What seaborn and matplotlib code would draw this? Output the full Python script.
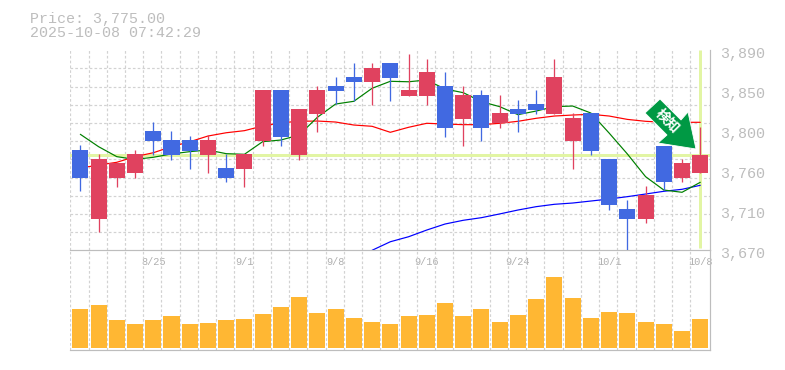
import numpy as np
import seaborn as sns
import matplotlib
matplotlib.use("Agg")
import matplotlib.pyplot as plt
from matplotlib.patches import Polygon
from matplotlib.transforms import ScaledTranslation

opens = [3780,3704,3750,3755,3801,3791,3791,3775,3760,3759,3790,3846,3775,3820,3851,3861,3855,3876,3840,3840,3851,3814,3841,3810,3825,3831,3820,3790,3821,3770,3715,3704,3785,3750,3755]
closes = [3750,3770,3766,3776,3790,3775,3779,3791,3750,3776,3846,3795,3825,3846,3845,3855,3871,3860,3846,3866,3805,3841,3805,3821,3820,3824,3861,3815,3779,3720,3704,3731,3745,3766,3775]
highs = [3786,3776,3766,3780,3811,3801,3796,3797,3776,3776,3846,3846,3825,3851,3861,3876,3876,3876,3886,3880,3866,3851,3846,3841,3835,3846,3880,3821,3821,3770,3725,3741,3785,3770,3806]
lows = [3735,3690,3740,3750,3775,3769,3759,3755,3745,3740,3785,3785,3769,3800,3831,3834,3830,3834,3840,3830,3795,3785,3790,3805,3800,3820,3820,3759,3775,3714,3670,3700,3736,3745,3755]
ma_short = [3797.6,3784,3773,3770,3772.3,3776,3778.5,3780.3,3776.3,3775.6,3789.5,3791.3,3796.8,3816.3,3830.9,3833.9,3848.2,3855.9,3855.4,3857.3,3847.4,3843.4,3833.5,3828,3819.2,3823.2,3828,3828.7,3821,3799,3776,3751,3736.3,3733.8,3744.8]
ma_mid = [3760.5,3763.8,3766.8,3773,3777.3,3784,3789.4,3795.7,3799.3,3801.6,3806.7,3810.3,3811.9,3812.2,3811.1,3807.8,3806.4,3799.8,3805.3,3809.7,3808.9,3808.2,3808.2,3809.7,3811.9,3815.2,3817.7,3818.8,3819.6,3817.7,3814,3811.9,3810.8,3810.8,3810.8]
ma_long = [np.nan]*16 + [3670,3679.4,3684.9,3692.3,3698.9,3703,3705.9,3710,3714.3,3718,3720.6,3722,3724.2,3726.4,3729,3731.9,3734.9,3737.1,3741.5]
volume = [116,128,83,71,83,95,71,74,83,86,101,122,152,104,116,89,77,71,96,99,135,96,117,78,99,147,213,150,90,108,105,78,72,51,87]
date_pos = [4,9,14,19,24,29,34]
date_labels = ["8/25","9/1","9/8","9/16","9/24","10/1","10/8"]
price_ticks = [3890,3846,3802,3758,3714,3670]
price_labels = ["3,890","3,850","3,800","3,760","3,710","3,670"]
last_price = 3775
title_lines = ["Price: 3,775.00","2025-10-08 07:42:29"]
signal_text = "検知"

W,H = 785,370
GREY = "#BDBDBD"
DATE_GREY = "#B0B0B0"
GRID = "#D2D2D2"
RED = "#E0425F"
BLUE = "#4169E1"
LIME = "#E2F5A4"
ORANGE = "#FFB733"
MONO = ["Liberation Mono"]

sns.set_style("white")
plt.rcParams["font.family"] = ["Noto Sans CJK JP","DejaVu Sans"]
fig = plt.figure(figsize=(W/100,H/100),dpi=100)
fig.patch.set_facecolor("white")

def box(l,t,r,b):
    return [l/W,(H-b)/H,(r-l)/W,(b-t)/H]
ax = fig.add_axes(box(70.3,50.3,710.3,250.3))
axv = fig.add_axes(box(70.3,250.3,710.3,350.3))
idx = np.arange(len(opens))
XL = (-0.55,34.55)
px = 0.72

ax.axhline(last_price,color=LIME,lw=3*px,zorder=1.5)
ax.plot([34,34],[3672,3890],color=LIME,lw=3*px,zorder=1.5,solid_capstyle="butt")
for series,col in ((ma_long,"#0000FF"),(ma_mid,"#FF0000"),(ma_short,"#008000")):
    sns.lineplot(x=idx,y=series,color=col,lw=1.2*px,ax=ax,estimator=None,errorbar=None,zorder=2)
op,cl = np.array(opens),np.array(closes)
cols = [RED if c>=o else BLUE for o,c in zip(opens,closes)]
ax.vlines(idx,lows,highs,colors=cols,lw=1.3*px,zorder=3)
ax.bar(idx,np.abs(cl-op),bottom=np.minimum(op,cl),width=0.88,color=cols,lw=0,zorder=3.1)

ax.set_xlim(*XL); ax.set_ylim(3670,3890)
ax.set_xlabel(""); ax.set_ylabel("")
ax.yaxis.tick_right()
ax.set_yticks(price_ticks,price_labels)
ax.set_yticks(np.arange(3670,3891,20),minor=True)
ax.set_xticks(date_pos,date_labels)
ax.set_xticks(idx-0.55,minor=True)
ax.tick_params(which="both",length=0)
ax.tick_params(axis="y",which="major",pad=7,labelsize=10.8,labelcolor=GREY)
ax.tick_params(axis="x",which="major",pad=4.5,labelsize=7.4,labelcolor=DATE_GREY)
for t in ax.get_yticklabels():
    t.set_fontfamily(MONO)
    t.set_transform(t.get_transform()+ScaledTranslation(0,-2.2/100,fig.dpi_scale_trans))
for t in ax.get_xticklabels():
    t.set_fontfamily(MONO)
ax.grid(False)
ax.grid(which="minor",color=GRID,lw=1.2*px,ls=(0,(2.2,1.8)))
ax.set_axisbelow(True)
for s in ("left","top"):
    ax.spines[s].set_visible(False)
for s in ("right","bottom"):
    ax.spines[s].set_color(GREY); ax.spines[s].set_linewidth(1.2*px)

sns.barplot(x=idx,y=volume,native_scale=True,width=0.88,color=ORANGE,saturation=1,lw=0,ax=axv,zorder=3)
axv.set_xlim(*XL); axv.set_ylim(-7.8,292)
axv.set_xlabel(""); axv.set_ylabel("")
axv.set_yticks([]); axv.set_xticks([])
axv.set_xticks(idx-0.55,minor=True)
axv.tick_params(which="both",length=0)
axv.grid(False)
axv.grid(which="minor",axis="x",color=GRID,lw=1.2*px,ls=(0,(2.2,1.8)))
axv.set_axisbelow(True)
axv.patch.set_alpha(0)
for s in ("left","top"):
    axv.spines[s].set_visible(False)
for s in ("right","bottom"):
    axv.spines[s].set_color(GREY); axv.spines[s].set_linewidth(1.2*px)

for line,yy in zip(title_lines,(18.5,33)):
    fig.text(30/W,(H-yy)/H,line,family=MONO,color=GREY,fontsize=10.8,va="center",ha="left")

arrow_px = [(645,113),(660,99),(681,120),(688,112),(696,149),(658,143),(667,135)]
arrow = Polygon([(x/W,(H-y)/H) for x,y in arrow_px],closed=True,transform=fig.transFigure,
                facecolor="#009944",edgecolor="white",lw=0.6,zorder=10)
fig.add_artist(arrow)
fig.text(667/W,(H-121)/H,signal_text,color="white",fontsize=10,fontweight="bold",rotation=-45,
         rotation_mode="anchor",ha="center",va="center",zorder=11)

fig.savefig("out.png",dpi=100,facecolor="white")
